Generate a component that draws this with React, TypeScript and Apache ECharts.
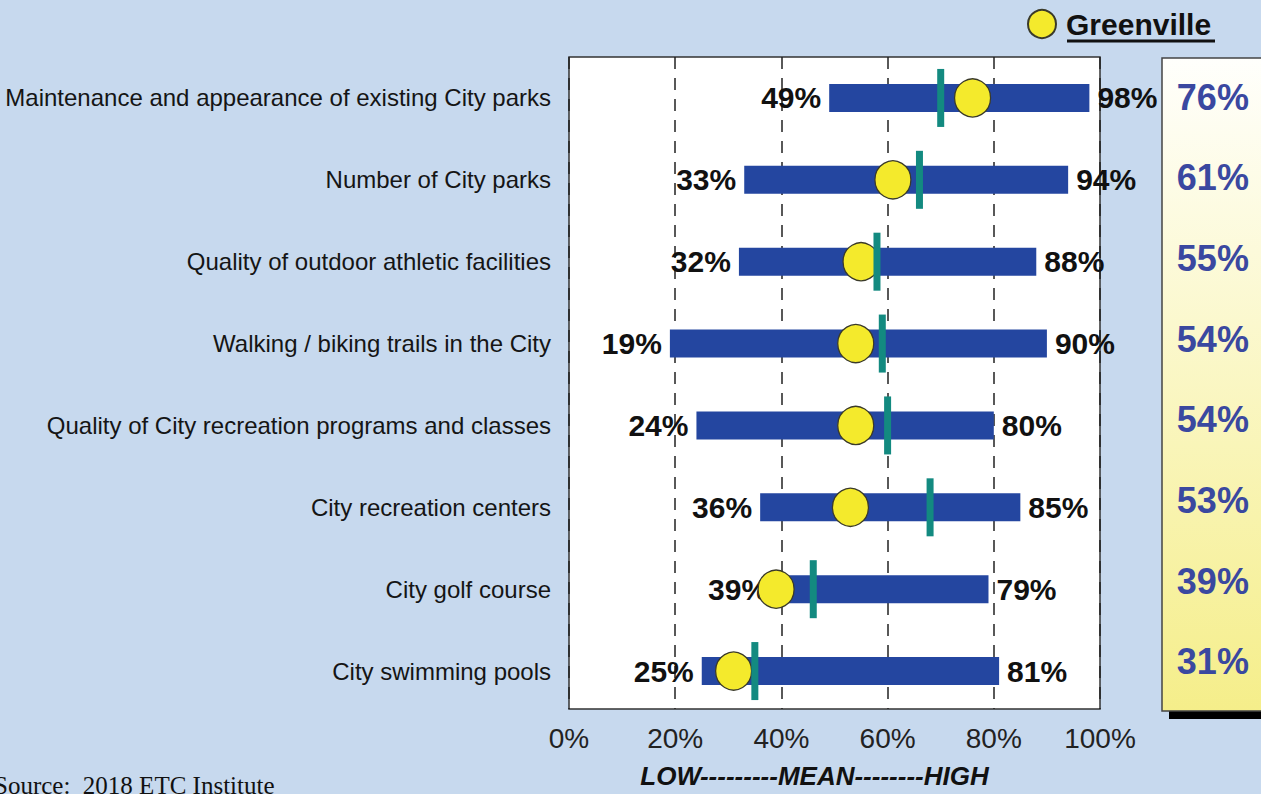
import React, { useEffect, useRef } from "react";
import * as echarts from "echarts";

const categories = [
  "Maintenance and appearance of existing City parks",
  "Number of City parks",
  "Quality of outdoor athletic facilities",
  "Walking / biking trails in the City",
  "Quality of City recreation programs and classes",
  "City recreation centers",
  "City golf course",
  "City swimming pools",
];
const lowValues = [49, 33, 32, 19, 24, 36, 39, 25];
const highValues = [98, 94, 88, 90, 80, 85, 79, 81];
const meanValues = [70, 66, 58, 59, 60, 68, 46, 35];
const greenvilleValues = [76, 61, 55, 54, 54, 53, 39, 31];
const axisMin = 0;
const axisMax = 100;
const axisStep = 20;
const axisTitle = "LOW---------MEAN--------HIGH";
const sourceNote = "Source:  2018 ETC Institute";
const legendName = "Greenville";

const FONT = "'Liberation Sans', Arial, sans-serif";

export default function App() {
  const ref = useRef<HTMLDivElement>(null);
  useEffect(() => {
    if (!ref.current) return;
    const chart = echarts.init(ref.current, null, { renderer: "svg" });
    const option: any = {
      animation: false,
      backgroundColor: "#c7d9ee",
      textStyle: { fontFamily: FONT },
      legend: {
        data: [{ name: legendName, icon: "circle" }],
        left: 1027,
        top: 9,
        itemWidth: 28,
        itemHeight: 28,
        padding: 0,
        textStyle: { fontSize: 30, fontWeight: "bold", color: "#111", fontFamily: FONT, padding: [0, 0, 0, 5] },
      },
      grid: [
        { left: 569, top: 57, width: 531, height: 656, show: true, backgroundColor: "#ffffff", borderColor: "#333", borderWidth: 1.5 },
        { left: 569, top: 57, width: 531, height: 655 },
        { left: 1162, top: 57, width: 96, height: 645 },
      ],
      xAxis: [
        {
          gridIndex: 0,
          type: "value",
          min: axisMin,
          max: axisMax,
          interval: axisStep,
          axisLine: { show: false },
          axisTick: { show: false },
          axisLabel: { formatter: "{value}%", fontSize: 28, color: "#222", margin: 15, fontFamily: FONT },
          splitLine: { show: true, lineStyle: { color: "#222", width: 1.5, type: [12, 9] } },
          name: axisTitle,
          nameLocation: "middle",
          nameGap: 54,
          nameTextStyle: { fontSize: 26, fontWeight: "bold", fontStyle: "italic", color: "#111", fontFamily: FONT, padding: [0, 40, 0, 0] },
        },
        { gridIndex: 1, type: "value", min: axisMin, max: axisMax, show: false },
        { gridIndex: 2, type: "value", min: 0, max: 1, show: false },
      ],
      yAxis: [
        { gridIndex: 0, type: "value", show: false },
        {
          gridIndex: 1,
          type: "category",
          inverse: true,
          data: categories,
          axisLine: { show: false },
          axisTick: { show: false },
          axisLabel: { fontSize: 24, color: "#151515", margin: 18, fontFamily: FONT },
        },
        { gridIndex: 2, type: "category", inverse: true, data: categories, show: false },
      ],
      graphic: [
        { type: "rect", z: 0, shape: { x: 1169, y: 64, width: 100, height: 655 }, style: { fill: "#000" } },
        {
          type: "rect",
          z: 0,
          shape: { x: 1162, y: 58, width: 110, height: 653 },
          style: {
            fill: new echarts.graphic.LinearGradient(0, 0, 0, 1, [
              { offset: 0, color: "#fffffc" },
              { offset: 1, color: "#f5ee8a" },
            ]),
            stroke: "#444",
            lineWidth: 1.5,
          },
        },
        { type: "line", z: 5, shape: { x1: 1067, y1: 41, x2: 1215, y2: 41 }, style: { stroke: "#111", lineWidth: 3 } },
        { type: "text", z: 5, x: -6, y: 773, style: { text: sourceNote, font: "25px 'Liberation Serif', 'Times New Roman', serif", fill: "#111" } },
      ],
      series: [
        {
          type: "bar",
          xAxisIndex: 1,
          yAxisIndex: 1,
          stack: "range",
          barWidth: 28,
          silent: true,
          itemStyle: { color: "rgba(0,0,0,0)" },
          data: lowValues,
          label: {
            show: true,
            position: "insideRight",
            distance: 8,
            formatter: (p: any) => lowValues[p.dataIndex] + "%",
            fontSize: 30,
            fontWeight: "bold",
            color: "#111",
            fontFamily: FONT,
          },
          z: 2,
        },
        {
          type: "bar",
          xAxisIndex: 1,
          yAxisIndex: 1,
          stack: "range",
          barWidth: 28,
          itemStyle: { color: "#2446a0" },
          data: highValues.map((h, i) => h - lowValues[i]),
          label: {
            show: true,
            position: "right",
            distance: 8,
            formatter: (p: any) => highValues[p.dataIndex] + "%",
            fontSize: 30,
            fontWeight: "bold",
            color: "#111",
            fontFamily: FONT,
          },
          z: 2,
        },
        {
          name: legendName,
          type: "scatter",
          xAxisIndex: 1,
          yAxisIndex: 1,
          symbol: "circle",
          symbolSize: [36, 38],
          itemStyle: { color: "#f4ea2c", borderColor: "#3a3a2a", borderWidth: 1.3, opacity: 1 },
          data: greenvilleValues.map((v, i) => [v, i]),
          z: 3,
        },
        {
          name: "Mean",
          type: "scatter",
          xAxisIndex: 1,
          yAxisIndex: 1,
          symbol: "rect",
          symbolSize: [7, 58],
          itemStyle: { color: "#138a80", opacity: 1 },
          data: meanValues.map((v, i) => [v, i]),
          z: 4,
        },
        {
          name: "panel",
          type: "scatter",
          xAxisIndex: 2,
          yAxisIndex: 2,
          symbolSize: 1,
          itemStyle: { color: "rgba(0,0,0,0)", opacity: 1 },
          data: greenvilleValues.map((v, i) => [0.53, i]),
          label: {
            show: true,
            position: "inside",
            formatter: (p: any) => greenvilleValues[p.dataIndex] + "%",
            fontSize: 36,
            fontWeight: "bold",
            color: "#3a48a0",
            opacity: 1,
            fontFamily: FONT,
          },
          z: 6,
        },
      ],
    };
    chart.setOption(option);
    return () => chart.dispose();
  }, []);
  return <div ref={ref} style={{ position: "fixed", left: 0, top: 0, width: 1261, height: 794 }} />;
}
